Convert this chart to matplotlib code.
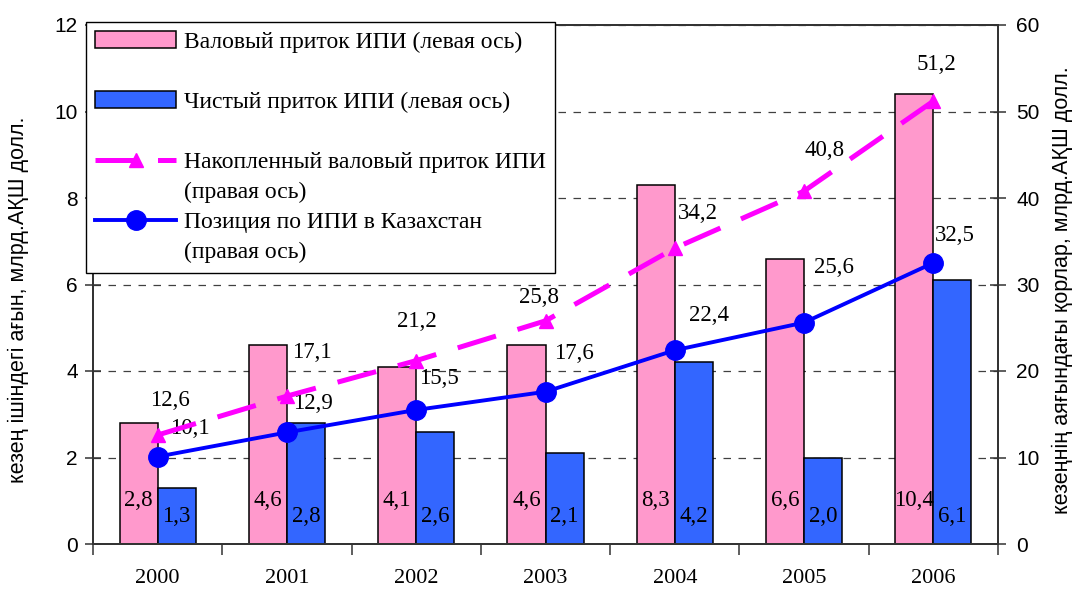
import matplotlib
matplotlib.use("Agg")
import matplotlib.pyplot as plt
from matplotlib.lines import Line2D
from matplotlib.patches import Patch
import numpy as np

# %% Data (млрд. АҚШ долл.)
years = ["2000", "2001", "2002", "2003", "2004", "2005", "2006"]
gross_inflow = [2.8, 4.6, 4.1, 4.6, 8.3, 6.6, 10.4]      # left axis
net_inflow = [1.3, 2.8, 2.6, 2.1, 4.2, 2.0, 6.1]         # left axis
cumulative_gross = [12.6, 17.1, 21.2, 25.8, 34.2, 40.8, 51.2]  # right axis
fdi_position = [10.1, 12.9, 15.5, 17.6, 22.4, 25.6, 32.5]      # right axis

legend_labels = [
    "Валовый приток ИПИ (левая ось)",
    "Чистый приток ИПИ (левая ось)",
    "Накопленный валовый приток ИПИ",
    "(правая ось)",
    "Позиция по ИПИ в Казахстан",
    "(правая ось)",
]
left_title = "кезең ішіндегі ағын, млрд.АҚШ долл."
right_title = "кезеңнің аяғындағы қорлар, млрд.АҚШ долл."

# label offsets in pixels (hand placed in the original chart)
cum_offsets = [(12, 35), (25, 44), (1, 39), (-7, 23), (23, 35), (20, 41), (3, 37)]
pos_offsets = [(32, 28), (26, 29), (23, 31), (28, 38), (34, 35), (30, 55), (21, 27)]

fmt = lambda v: f"{v:.1f}".replace(".", ",")

PINK = "#FF99CC"
BLUE_BAR = "#3366FF"
MAGENTA = "#FF00FF"
BLUE_LINE = "#0000FF"
SERIF = "Liberation Serif"
SANS = "Liberation Sans"

# %% Figure
fig = plt.figure(figsize=(10.77, 5.89), dpi=100)
ax = fig.add_axes([93 / 1077, 45 / 589, 905 / 1077, 519 / 589])
ax2 = ax.twinx()

x = np.arange(len(years))
w = 0.295

ax.bar(x - w / 2, gross_inflow, w, color=PINK, edgecolor="black", linewidth=1.1, zorder=2)
ax.bar(x + w / 2, net_inflow, w, color=BLUE_BAR, edgecolor="black", linewidth=1.1, zorder=2)

for xi, v in zip(x, gross_inflow):
    ax.annotate(fmt(v), (xi - w / 2, 0), xytext=(0, 44), textcoords="offset pixels",
                ha="center", va="center", fontsize=16.5, family=SERIF, zorder=3)
for xi, v in zip(x, net_inflow):
    ax.annotate(fmt(v), (xi + w / 2, 0), xytext=(0, 27), textcoords="offset pixels",
                ha="center", va="center", fontsize=16.5, family=SERIF, zorder=3)

ax.set_xlim(-0.5, len(years) - 0.5)
ax.set_ylim(0, 12)
ax.set_yticks(np.arange(0, 13, 2))
ax.yaxis.grid(True, color="#404040", linestyle=(0, (6, 6)), linewidth=0.9)
ax.set_axisbelow(True)

ax.set_xticks(x)
ax.set_xticklabels(years, family=SERIF, fontsize=16)
ax.set_xticks(np.arange(len(years) + 1) - 0.5, minor=True)
ax.tick_params(axis="x", which="major", length=0, pad=18)
ax.tick_params(axis="x", which="minor", length=8, width=1.1, direction="out", color="#333333")
ax.tick_params(axis="y", direction="inout", length=12, width=1.1, color="#333333",
               labelsize=15, pad=5)
for lbl in ax.get_yticklabels():
    lbl.set_family(SANS)

# %% Lines on the right axis
ax2.plot(x, cumulative_gross, color=MAGENTA, linewidth=3.6, dashes=(8, 4.5),
         marker="^", markersize=10, zorder=4)
ax2.plot(x, fdi_position, color=BLUE_LINE, linewidth=2.8,
         marker="o", markersize=14, zorder=5)

for xi, v, off in zip(x, cumulative_gross, cum_offsets):
    ax2.annotate(fmt(v), (xi, v), xytext=off, textcoords="offset pixels",
                 ha="center", va="center", fontsize=16.5, family=SERIF)
for xi, v, off in zip(x, fdi_position, pos_offsets):
    ax2.annotate(fmt(v), (xi, v), xytext=off, textcoords="offset pixels",
                 ha="center", va="center", fontsize=16.5, family=SERIF)

ax2.set_ylim(0, 60)
ax2.set_yticks(np.arange(0, 61, 10))
ax2.tick_params(axis="y", direction="inout", length=12, width=1.1, color="#333333",
                labelsize=15, pad=7)
for lbl in ax2.get_yticklabels():
    lbl.set_family(SANS)

for a in (ax, ax2):
    for s in a.spines.values():
        s.set_color("#333333")
        s.set_linewidth(1.3)

ax.set_ylabel(left_title, family=SANS, fontsize=15.5)
ax.yaxis.set_label_coords(-0.071, 0.47)
ax2.set_ylabel(right_title, family=SANS, fontsize=15.5)
ax2.yaxis.set_label_coords(1.059, 0.49)

# %% Legend (blank rows keep the original spacing)
blank = Line2D([], [], color="none")
handles = [
    Patch(facecolor=PINK, edgecolor="black", linewidth=1.1), blank,
    Patch(facecolor=BLUE_BAR, edgecolor="black", linewidth=1.1), blank,
    Line2D([], [], color=MAGENTA, linewidth=3.6, dashes=(8, 4.5), marker="^", markersize=10), blank,
    Line2D([], [], color=BLUE_LINE, linewidth=2.8, marker="o", markersize=14), blank,
]
labels = [legend_labels[0], " ", legend_labels[1], " ",
          legend_labels[2], legend_labels[3], legend_labels[4], legend_labels[5]]
leg = ax2.legend(handles, labels, loc="upper left",
                 bbox_to_anchor=(86 / 1077, 1 - 22 / 589), bbox_transform=fig.transFigure,
                 prop={"family": SERIF, "size": 17}, fancybox=False, edgecolor="black",
                 framealpha=1, handlelength=3.4, handletextpad=0.35, labelspacing=0.36,
                 borderpad=0.4, borderaxespad=0)
leg.get_frame().set_linewidth(1.0)
leg.set_zorder(10)

fig.savefig("out.png", dpi=100)
